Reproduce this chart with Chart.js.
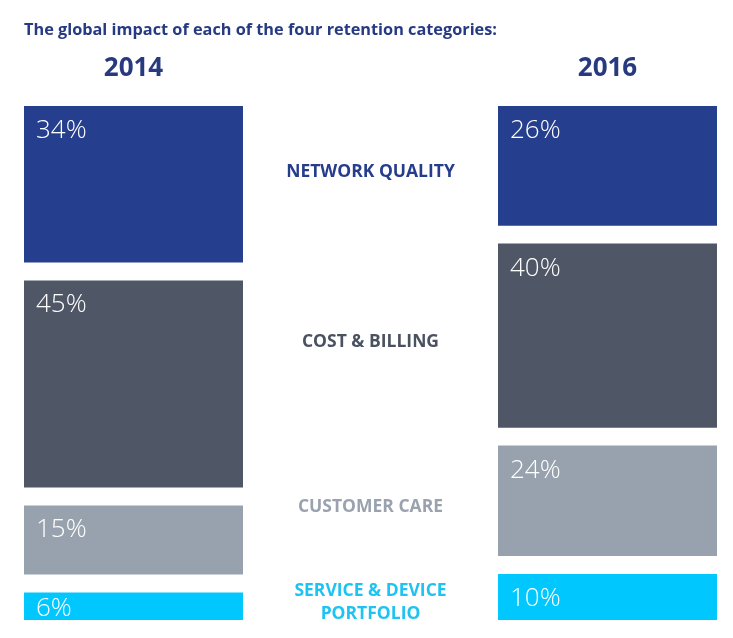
<!DOCTYPE html>
<html>
<head>
<meta charset="utf-8">
<script src="https://cdn.jsdelivr.net/npm/chart.js@4/dist/chart.umd.min.js"></script>
<style>
  html, body { margin: 0; padding: 0; background: #fff; }
  #wrap { width: 733px; height: 638px; position: relative; }
</style>
</head>
<body>
<div id="wrap"><canvas id="retentionChart"></canvas></div>
<script>
// Data
const years = ['2014', '2016'];
const categories = ['NETWORK QUALITY', 'COST & BILLING', 'CUSTOMER CARE', ['SERVICE & DEVICE', 'PORTFOLIO']];
const share2014 = [34, 45, 15, 6];
const share2016 = [26, 40, 24, 10];

// Styles
const fillColors = ['#253f8e', '#4f5766', '#98a2ae', '#00c8ff'];
const labelColors = ['#263d8c', '#4a5262', '#9aa2ae', '#1ec3f2'];
const heading = 'The global impact of each of the four retention categories:';
const GAP = 3.9; // white space between blocks, in % units

// stack each column top-down with a small gap between blocks
function toRanges(values) {
    let start = 0;
    return values.map((v, i) => {
        const r = [start, start + v];
        start += v + GAP;
        return r;
    });
}
const ranges2014 = toRanges(share2014);
const ranges2016 = toRanges(share2016);

const datasets = categories.map((cat, i) => ({
    label: Array.isArray(cat) ? cat.join(' ') : cat,
    data: [ranges2014[i], null, ranges2016[i]],
    backgroundColor: fillColors[i],
    borderWidth: 0,
    barPercentage: 1,
    categoryPercentage: 0.924,
    grouped: false
}));

const labelsPlugin = {
    id: 'retentionLabels',
    afterDraw(chart) {
        const ctx = chart.ctx;
        const xScale = chart.scales.x;
        ctx.save();

        // heading
        ctx.fillStyle = '#263a83';
        ctx.font = 'bold 16.3px "Open Sans", sans-serif';
        ctx.textAlign = 'left';
        ctx.textBaseline = 'middle';
        ctx.fillText(heading, 24, 30);

        const midX = xScale.getPixelForValue(1);
        chart.data.datasets.forEach((ds, i) => {
            const meta = chart.getDatasetMeta(i);
            const values = [share2014[i], null, share2016[i]];
            const centers = [];
            meta.data.forEach((bar, j) => {
                if (values[j] == null) return;
                const top = Math.min(bar.y, bar.base);
                const bottom = Math.max(bar.y, bar.base);
                centers.push((top + bottom) / 2);
                ctx.fillStyle = '#ffffff';
                ctx.font = '300 26px "Open Sans", sans-serif';
                ctx.textAlign = 'left';
                ctx.textBaseline = 'alphabetic';
                ctx.fillText(values[j] + '%', bar.x - bar.width / 2 + 12, Math.min(top + 32, bottom - 4));
            });

            // category label between the columns
            const lines = Array.isArray(categories[i]) ? categories[i] : [categories[i]];
            const cy = Math.min(...centers) + 6;
            ctx.fillStyle = labelColors[i];
            ctx.font = 'bold 17.5px "Open Sans", sans-serif';
            ctx.textAlign = 'center';
            ctx.textBaseline = 'middle';
            const lh = 23;
            lines.forEach((line, k) => {
                ctx.fillText(line, midX, cy + (k - (lines.length - 1) / 2) * lh);
            });
        });
        ctx.restore();
    }
};

window.addEventListener('load', () => {
    const ctx = document.getElementById('retentionChart').getContext('2d');
    new Chart(ctx, {
        type: 'bar',
        data: {
            labels: [years[0], '', years[1]],
            datasets: datasets
        },
        options: {
            responsive: true,
            maintainAspectRatio: false,
            animation: false,
            layout: {
                padding: { left: 15, right: 7, top: 0, bottom: 18 }
            },
            plugins: {
                legend: { display: false },
                tooltip: { enabled: false },
                title: { display: false }
            },
            scales: {
                x: {
                    position: 'top',
                    grid: { display: false, drawTicks: false },
                    border: { display: false },
                    ticks: {
                        padding: 22,
                        color: '#27397f',
                        font: { family: '"Open Sans", sans-serif', size: 26, weight: 'bold' }
                    },
                    afterFit(scale) { scale.height = 106; }
                },
                y: {
                    display: false,
                    reverse: true,
                    min: 0,
                    max: 100 + 3 * GAP
                }
            }
        },
        plugins: [labelsPlugin]
    });
});
</script>
</body>
</html>
